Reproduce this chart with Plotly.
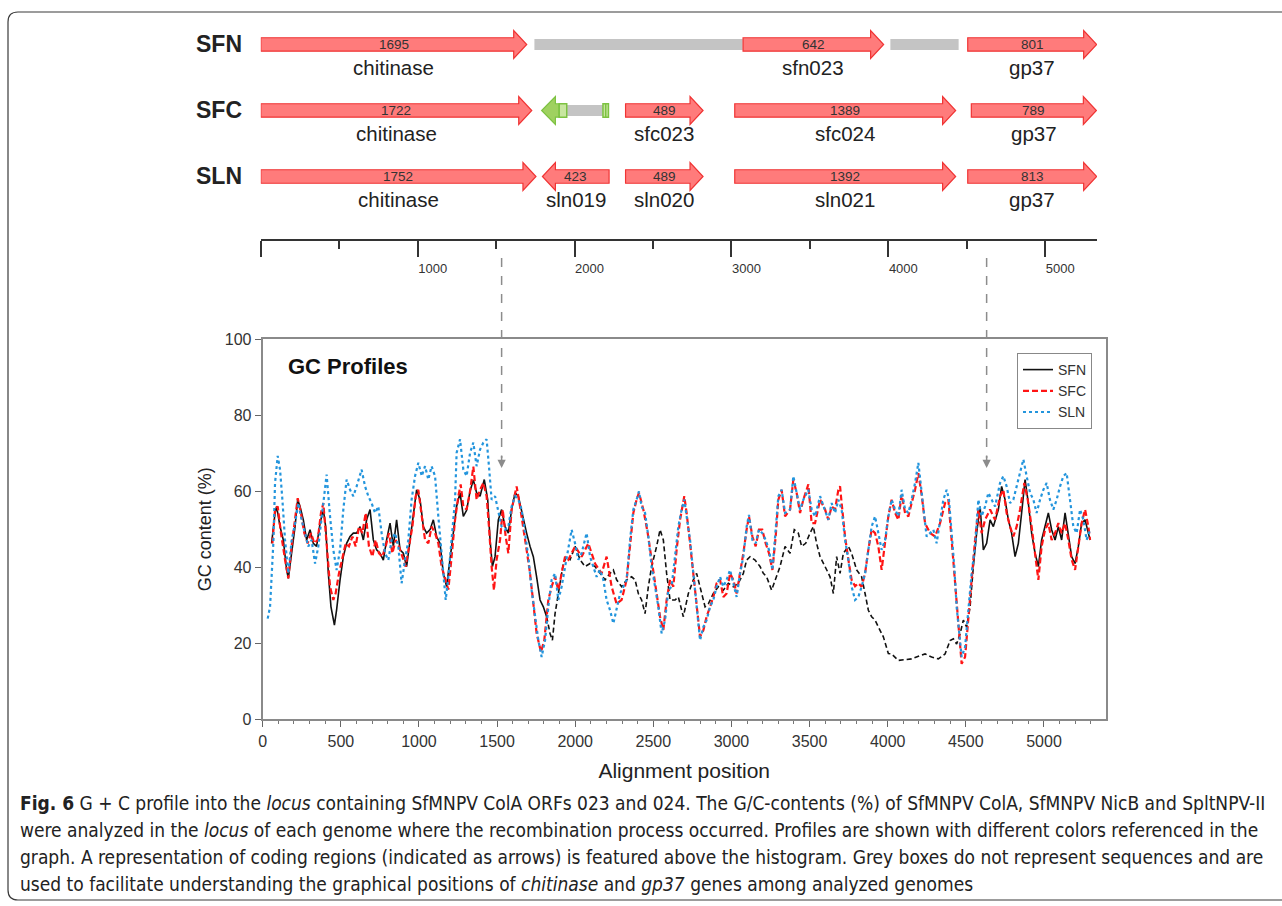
import plotly.graph_objects as go

W, H = 1282, 906
def px(x):
    return x / W
def py(y):
    return 1 - y / H

FONT = "Liberation Sans, Arial, Helvetica, sans-serif"
CAPFONT = "Liberation Sans Narrow, Arial Narrow, DejaVu Sans Condensed, sans-serif"

# ---------------- GC profile data (alignment position, GC %) ----------------
sfn_pos = [57, 79, 89, 111, 132, 153, 164, 185, 207, 224,
           239, 260, 281, 303, 324, 345, 367, 388, 403, 420,
           437, 459, 473, 495, 516, 537, 559, 580, 601, 623,
           644, 665, 687, 708, 729, 751, 772, 793, 815, 836,
           857, 879, 900, 921, 943, 964, 985, 1007, 1028, 1049,
           1071, 1092, 1113, 1135, 1156, 1177, 1199, 1220, 1241, 1263,
           1284, 1305, 1327, 1348, 1369, 1391, 1418, 1440, 1455, 1470,
           1487, 1508, 1529, 1551, 1572, 1593, 1615, 1636, 1668, 1689,
           1711, 1732, 1753, 1775, 1796, 1817, 1839, 1854, 1871, 1892,
           1924, 1945, 1967, 1999, 2031, 2063, 2095, 2127, 2159, 2191,
           2223, 2244, 2265, 2297, 2329, 2361, 2383, 2404, 2425, 2447,
           2468, 2489, 2521, 2543, 2564, 2585, 2607, 2639, 2660, 2692,
           2724, 2756, 2777, 2809, 2831, 2852, 2884, 2916, 2948, 2980,
           3012, 3044, 3076, 3097, 3119, 3151, 3183, 3204, 3225, 3257,
           3279, 3311, 3343, 3375, 3402, 3428, 3449, 3475, 3503, 3524,
           3545, 3567, 3599, 3631, 3652, 3673, 3695, 3716, 3748, 3769,
           3801, 3833, 3855, 3876, 3897, 3919, 3940, 3972, 4004, 4025,
           4068, 4153, 4239, 4281, 4324, 4367, 4399, 4420, 4441, 4463,
           4484, 4505, 4527, 4548, 4569, 4591, 4612, 4633, 4655, 4676,
           4708, 4729, 4751, 4772, 4793, 4815, 4836, 4857, 4879, 4900,
           4921, 4943, 4964, 4985, 5007, 5028, 5049, 5071, 5092, 5113,
           5135, 5156, 5177, 5199, 5220, 5241, 5263, 5284, 5295]
sfn_gc = [46.3, 54.3, 56, 50.7, 47.2, 39.3, 37.1, 43.7, 50.7, 57.8,
          56, 52.5, 47.2, 49.9, 46.3, 45.5, 51.6, 55.2, 50.7, 38.4,
          29.6, 24.8, 28.8, 36.7, 42.8, 46.3, 48.1, 49, 49, 50.7,
          47.2, 52.5, 55.2, 47.2, 44.6, 43.7, 41.9, 47.2, 51.6, 45.5,
          52.5, 44.6, 43.7, 40.2, 47.2, 52.5, 60.4, 57.8, 50.7, 49,
          49.9, 52.5, 48.1, 46.3, 38.4, 34.9, 41.9, 49.9, 56, 59.6,
          53.4, 55, 60, 63, 59.6, 58.7, 63.1, 57.8, 47.2, 40.2,
          42.8, 52.5, 55.2, 50.7, 49, 55.2, 59.6, 58.7, 52.5, 49,
          45.5, 42.8, 37.5, 31.4, 29.6, 27, 22.6, 20.8, 27.8, 33.1,
          41, 42.8, 42, 45.5, 42, 40.2, 41, 40.2, 38.4, 36.7,
          38.4, 39.3, 36.7, 34.9, 36.7, 37.5, 36.7, 33.1, 31.4, 27.8,
          34.9, 40.2, 45.5, 49.9, 47.2, 38.4, 31.4, 31.4, 32.2, 27,
          33.1, 36.7, 38.4, 33.1, 29.6, 30.4, 33.1, 34.9, 34, 35.8,
          34.9, 35.8, 38.4, 41.9, 42.8, 41.9, 40.2, 38.4, 37.5, 34,
          36.7, 40.2, 45.5, 43.7, 49.9, 49, 45.5, 46.3, 49, 50.7,
          46.3, 42.8, 40.2, 37.5, 33.1, 42.8, 38.4, 43.7, 45.5, 43.7,
          39.3, 37.5, 33.1, 28.7, 27, 26.1, 24.3, 21.7, 17.3, 17.2,
          15.5, 15.9, 17.2, 16.4, 15.9, 17.2, 20.7, 21.2, 19.8, 22.5,
          26.1, 24.3, 29.6, 40.2, 49, 56, 44.6, 46.3, 52.5, 50.7,
          55.2, 61.3, 57.8, 52.5, 49, 42.8, 46.3, 54.3, 63.1, 56.9,
          49, 43.7, 40.2, 47.2, 50.7, 54.3, 49.9, 47.2, 50.7, 47.2,
          54.3, 49, 42.8, 41, 45.5, 51.6, 52.5, 49, 47.2]

sfc_pos = [62, 79, 96, 117, 143, 164, 185, 207, 224, 245,
           266, 288, 309, 330, 352, 373, 388, 409, 431, 452,
           467, 488, 509, 531, 552, 574, 595, 616, 638, 659,
           680, 702, 723, 744, 765, 787, 808, 830, 851, 872,
           894, 915, 936, 958, 979, 996, 1018, 1039, 1060, 1081,
           1103, 1124, 1145, 1167, 1188, 1209, 1231, 1252, 1267, 1284,
           1305, 1327, 1348, 1369, 1391, 1412, 1433, 1448, 1465, 1480,
           1497, 1519, 1536, 1555, 1572, 1593, 1625, 1647, 1668, 1689,
           1711, 1732, 1753, 1781, 1802, 1828, 1849, 1871, 1892, 1913,
           1935, 1956, 1999, 2041, 2084, 2127, 2169, 2201, 2233, 2265,
           2297, 2329, 2351, 2372, 2393, 2408, 2436, 2464, 2489, 2515,
           2543, 2564, 2585, 2607, 2628, 2649, 2671, 2698, 2713, 2735,
           2756, 2777, 2799, 2820, 2841, 2863, 2884, 2905, 2927, 2948,
           2969, 2991, 3012, 3033, 3055, 3076, 3097, 3112, 3134, 3155,
           3176, 3197, 3219, 3240, 3262, 3283, 3300, 3321, 3343, 3375,
           3396, 3417, 3439, 3460, 3492, 3513, 3535, 3567, 3599, 3620,
           3641, 3663, 3684, 3695, 3705, 3727, 3748, 3769, 3791, 3812,
           3833, 3855, 3876, 3897, 3919, 3940, 3961, 3983, 4004, 4025,
           4047, 4068, 4089, 4111, 4132, 4153, 4175, 4196, 4217, 4239,
           4271, 4303, 4335, 4367, 4388, 4409, 4431, 4452, 4473, 4495,
           4516, 4537, 4559, 4580, 4601, 4623, 4655, 4687, 4719, 4740,
           4761, 4783, 4804, 4825, 4847, 4874, 4896, 4921, 4943, 4964,
           4985, 5007, 5028, 5049, 5071, 5092, 5113, 5135, 5156, 5177,
           5199, 5220, 5241, 5263, 5284, 5295]
sfc_gc = [46.3, 55.2, 56, 49, 42, 37.1, 45.5, 53.4, 58.2, 54.3,
          49, 46.3, 49, 46.3, 47.2, 54.3, 56.9, 46.3, 34.9, 31.4,
          33.2, 38.4, 42, 46.3, 45.5, 48.1, 45.5, 50.7, 49, 54.3,
          45.5, 42.8, 47.2, 43.7, 42.8, 45.5, 49, 43.7, 47.2, 45.5,
          42.8, 40.2, 45.5, 50.7, 58.7, 60.4, 53.4, 47.2, 46.3, 50.7,
          49, 46.3, 40.2, 36.7, 34.1, 42.8, 52.5, 58.7, 61.8, 56,
          55.2, 60, 66.5, 57.8, 60.4, 62.2, 58.7, 50.7, 40.2, 34,
          42, 47.2, 55.2, 48.1, 43.7, 55.2, 61.3, 56, 50.7, 44.6,
          38.4, 29.6, 22.6, 17.7, 20.8, 31.4, 34.9, 37.5, 34, 38.4,
          42.8, 42, 45.5, 42.8, 46.3, 41, 38.4, 42.8, 34.9, 30.4,
          31.4, 36.7, 46.3, 54.3, 57.8, 59.6, 55.2, 49, 42, 34.9,
          27, 23.5, 31.4, 36.7, 34.9, 44.6, 52.5, 58.7, 54.3, 46.3,
          38.4, 29.6, 21.7, 23.4, 27, 29.6, 32.2, 35.8, 36.7, 32.2,
          33.1, 38.4, 36.7, 33.1, 38.4, 43.7, 49.9, 53.4, 48.1, 45.5,
          49.9, 49.9, 46.3, 43.7, 39.3, 48.1, 57.8, 60.4, 53.4, 55.2,
          63.1, 59.6, 54.3, 57.8, 61.8, 51.6, 51.6, 57.8, 55.2, 52.5,
          56, 55.2, 60.4, 61.3, 56.9, 48.1, 42, 36.7, 35, 35.8,
          34.9, 38.4, 44.6, 49.9, 49, 45.5, 39.3, 46.3, 53.4, 57.8,
          54.3, 52.5, 59.1, 54.3, 53.4, 56.9, 60.4, 64.8, 59.1, 51.6,
          49, 48.1, 51.6, 56.9, 57.8, 47.2, 35.8, 24.3, 14.6, 16.4,
          27, 38.4, 47.2, 55.2, 49, 52.5, 55.2, 52.5, 58.7, 60.4,
          54.3, 50.7, 48.1, 50.7, 55.2, 62.2, 57.8, 50.7, 42.8, 36.7,
          45.5, 49.9, 51.6, 47.2, 49, 51.6, 49, 51.6, 47.2, 42,
          39.3, 45.5, 51.6, 55.2, 50.7, 47.2]

sln_pos = [32, 47, 68, 79, 96, 111, 126, 143, 164, 185,
           207, 228, 249, 271, 292, 313, 335, 356, 377, 399,
           409, 431, 452, 473, 495, 516, 537, 559, 580, 601,
           633, 655, 676, 697, 719, 740, 761, 783, 804, 825,
           847, 868, 889, 911, 932, 953, 975, 996, 1018, 1039,
           1060, 1081, 1103, 1124, 1145, 1156, 1171, 1188, 1209, 1231,
           1241, 1263, 1284, 1305, 1327, 1348, 1369, 1391, 1412, 1433,
           1448, 1465, 1487, 1508, 1529, 1551, 1572, 1593, 1615, 1636,
           1657, 1679, 1700, 1721, 1743, 1764, 1785, 1807, 1828, 1849,
           1871, 1892, 1913, 1935, 1956, 1977, 1999, 2020, 2041, 2063,
           2073, 2095, 2116, 2137, 2159, 2180, 2201, 2223, 2244, 2265,
           2287, 2308, 2329, 2351, 2372, 2393, 2408, 2425, 2447, 2468,
           2489, 2511, 2532, 2553, 2575, 2596, 2617, 2639, 2660, 2681,
           2698, 2713, 2735, 2756, 2777, 2799, 2820, 2841, 2863, 2884,
           2905, 2927, 2948, 2969, 2991, 3012, 3033, 3055, 3076, 3097,
           3112, 3134, 3155, 3176, 3197, 3219, 3240, 3262, 3283, 3300,
           3321, 3343, 3375, 3396, 3417, 3439, 3460, 3492, 3513, 3535,
           3567, 3599, 3620, 3641, 3663, 3684, 3705, 3727, 3748, 3769,
           3791, 3812, 3833, 3855, 3876, 3897, 3919, 3940, 3961, 3983,
           4004, 4025, 4047, 4068, 4089, 4111, 4132, 4153, 4175, 4196,
           4213, 4228, 4249, 4271, 4292, 4313, 4335, 4356, 4377, 4392,
           4409, 4426, 4441, 4456, 4473, 4495, 4516, 4537, 4559, 4580,
           4601, 4623, 4644, 4665, 4687, 4719, 4740, 4761, 4783, 4804,
           4825, 4847, 4868, 4889, 4911, 4932, 4953, 4975, 4996, 5017,
           5038, 5060, 5081, 5103, 5124, 5145, 5166, 5188, 5209, 5231,
           5252, 5273, 5295]
sln_gc = [26.5, 29.6, 46.3, 62.2, 69.3, 65.7, 57.8, 47.2, 38.4, 47,
          51.6, 56.9, 52.5, 49, 45.5, 47.2, 41, 45.5, 53.4, 61.3,
          64.4, 53.4, 44.6, 39.3, 44.6, 55.2, 63.1, 60.4, 58.7, 61.3,
          65.7, 61.3, 58.7, 56.9, 54.3, 56, 49, 43.7, 41.9, 47.2,
          49, 45.5, 35.8, 41.9, 47.2, 57.8, 64, 67.5, 64, 66.6,
          63.1, 66.6, 64, 53.4, 42.8, 36.7, 31.4, 37.5, 47.2, 57.8,
          70.1, 73.7, 65.7, 64, 70.1, 72.8, 66.6, 71, 72.8, 73.7,
          66.6, 57.8, 58.7, 54.3, 50.7, 49.9, 50.7, 56, 58.7, 57.8,
          55.2, 49, 42.8, 34, 27, 20.8, 16.4, 20.8, 29.6, 36.7,
          38.4, 31.4, 34.9, 40.2, 45.5, 49.9, 46.3, 42, 43.7, 47.2,
          49, 42.8, 40.2, 37.5, 39.3, 36.7, 31.4, 28.7, 25.2, 28.7,
          33.1, 34.9, 36.7, 47.2, 55.2, 57.8, 60, 56, 54.3, 48.1,
          40.2, 34.9, 29.6, 22.6, 26.1, 34, 34.9, 43, 50.7, 55.2,
          57.8, 53.4, 47.2, 38.4, 29.6, 20.8, 24.3, 26.1, 29.6, 31.4,
          34.9, 37.5, 34.9, 36.7, 39.3, 35.8, 32.2, 38.4, 42.8, 50.7,
          53.8, 47.2, 46.3, 49.9, 49, 47.2, 44.6, 39.3, 49, 58.7,
          60.4, 54.3, 55.2, 64, 59.6, 55.2, 57.8, 60.4, 55.2, 53.4,
          58.7, 55.2, 52.5, 56.9, 54.3, 57.8, 55.2, 47.2, 42, 34.9,
          31.4, 32.2, 34.9, 38.4, 44.6, 50.7, 53.4, 49, 44.6, 47.2,
          53.4, 57.8, 55.2, 53.4, 60.4, 55.2, 54.3, 57.8, 62.2, 67.5,
          61.3, 55.2, 48.1, 49, 49.9, 46.3, 52.5, 57.8, 60.4, 57.8,
          49, 40.2, 29.6, 22.6, 16.4, 19, 29.6, 38.4, 45.5, 57.8,
          53.4, 56, 59.6, 57.8, 56, 62.2, 64, 61.3, 56.9, 57.8,
          61.3, 64.8, 68.4, 64, 59.6, 57.8, 54.3, 57.8, 60.4, 62.2,
          57.8, 55.2, 57.8, 61.3, 64, 64.8, 57.8, 50.7, 49, 55.2,
          52.5, 47.2, 49.9]

x_ticks = [0, 500, 1000, 1500, 2000, 2500, 3000, 3500, 4000, 4500, 5000]
y_ticks = [0, 20, 40, 60, 80, 100]

# ---------------- gene map data ----------------
genome_names = ["SFN", "SFC", "SLN"]
gene_row    = [0, 0, 0, 1, 1, 1, 1, 2, 2, 2, 2, 2]
gene_start  = [0, 3074, 4506, 0, 2325, 3021, 4529, 0, 1795, 2325, 3021, 4506]
gene_end    = [1695, 3970, 5328, 1727, 2819, 4429, 5326, 1754, 2220, 2819, 4429, 5328]
gene_strand = [1, 1, 1, 1, 1, 1, 1, 1, -1, 1, 1, 1]
gene_size   = ["1695", "642", "801", "1722", "489", "1389", "789",
               "1752", "423", "489", "1392", "813"]
gene_label  = ["chitinase", "sfn023", "gp37", "chitinase", "sfc023", "sfc024", "gp37",
               "chitinase", "sln019", "sln020", "sln021", "gp37"]
grey_row   = [0, 0, 1]
grey_start = [1744, 4013, 1950]
grey_end   = [3072, 4448, 2181]
# truncated ORF fragment in SFC (green)
frag_arrow = (1790, 1902)
frag_boxes = [(1902, 1950), (2181, 2216)]
ruler_major = [0, 1000, 2000, 3000, 4000, 5000]
ruler_text = ["", "1000", "2000", "3000", "4000", "5000"]
ruler_minor = [500, 1500, 2500, 3500, 4500]
recomb_sites = [1529, 4633]

caption_lines = [
    "<b>Fig. 6</b> G + C profile into the <i>locus</i> containing SfMNPV ColA ORFs 023 and 024. The G/C-contents (%) of SfMNPV ColA, SfMNPV NicB and SpltNPV-II",
    "were analyzed in the <i>locus</i> of each genome where the recombination process occurred. Profiles are shown with different colors referenced in the",
    "graph. A representation of coding regions (indicated as arrows) is featured above the histogram. Grey boxes do not represent sequences and are",
    "used to facilitate understanding the graphical positions of <i>chitinase</i> and <i>gp37</i> genes among analyzed genomes",
]

# ---------------- figure ----------------
fig = go.Figure()

mid_lo, mid_hi = 1817, 4548
def part(xs, ys, cond):
    pts = [(a, b) for a, b in zip(xs, ys) if cond(a)]
    return [p[0] for p in pts], [p[1] for p in pts]

x1, y1 = part(sfn_pos, sfn_gc, lambda a: a <= mid_lo)
x2, y2 = part(sfn_pos, sfn_gc, lambda a: mid_lo <= a <= mid_hi)
x3, y3 = part(sfn_pos, sfn_gc, lambda a: a >= mid_hi)

fig.add_trace(go.Scatter(x=x1, y=y1, mode="lines", name="SFN", legendgroup="sfn",
                         line=dict(color="#111111", width=1.6)))
fig.add_trace(go.Scatter(x=x2, y=y2, mode="lines", name="SFN", legendgroup="sfn",
                         showlegend=False, line=dict(color="#111111", width=1.6, dash="5px,3px")))
fig.add_trace(go.Scatter(x=x3, y=y3, mode="lines", name="SFN", legendgroup="sfn",
                         showlegend=False, line=dict(color="#111111", width=1.6)))
fig.add_trace(go.Scatter(x=sfc_pos, y=sfc_gc, mode="lines", name="SFC", legendgroup="sfc",
                         line=dict(color="#ff1414", width=2.2, dash="6px,3px")))
fig.add_trace(go.Scatter(x=sln_pos, y=sln_gc, mode="lines", name="SLN", legendgroup="sln",
                         line=dict(color="#2395dd", width=2.2, dash="dot")))

# invisible anchor trace for gene-map axes
fig.add_trace(go.Scatter(x=[0], y=[0], xaxis="x2", yaxis="y2", mode="markers",
                         marker=dict(opacity=0), showlegend=False, hoverinfo="skip"))

BH, HH, HL = 0.102, 0.212, 83
def arrow_path(s, e, r, strand, hl=HL):
    if strand > 0:
        b = e - hl
        pts = [(s, r - BH), (b, r - BH), (b, r - HH), (e, r), (b, r + HH), (b, r + BH), (s, r + BH)]
    else:
        b = s + hl
        pts = [(e, r - BH), (b, r - BH), (b, r - HH), (s, r), (b, r + HH), (b, r + BH), (e, r + BH)]
    return "M " + " L ".join(f"{x},{y}" for x, y in pts) + " Z"

shapes = []
for r, s, e in zip(grey_row, grey_start, grey_end):
    shapes.append(dict(type="rect", xref="x2", yref="y2", x0=s, x1=e, y0=r - 0.085, y1=r + 0.085,
                       fillcolor="#c4c4c4", line=dict(width=0)))
for r, s, e, st in zip(gene_row, gene_start, gene_end, gene_strand):
    shapes.append(dict(type="path", xref="x2", yref="y2", path=arrow_path(s, e, r, st),
                       fillcolor="#ff7b7b", line=dict(color="#f03434", width=1.2)))
# green fragment in SFC
shapes.append(dict(type="path", xref="x2", yref="y2", path=arrow_path(frag_arrow[0], frag_arrow[1], 1, -1, hl=88),
                   fillcolor="#9fd160", line=dict(color="#7dc242", width=1.2)))
for s, e in frag_boxes:
    shapes.append(dict(type="rect", xref="x2", yref="y2", x0=s, x1=e, y0=1 - BH, y1=1 + BH,
                       fillcolor="#c8e6a0", line=dict(color="#7dc242", width=1.5)))
shapes.append(dict(type="line", xref="x2", yref="y2", x0=sum(frag_boxes[1]) / 2, x1=sum(frag_boxes[1]) / 2,
                   y0=1 - BH, y1=1 + BH, line=dict(color="#7dc242", width=1.5)))

# recombination-site dashed pointers
for xv in recomb_sites:
    shapes.append(dict(type="line", xref="x", yref="paper", x0=xv, x1=xv, y0=py(258), y1=py(458),
                       line=dict(color="#8c8c8c", width=1.5, dash="dash")))

# outer rounded frame
r = 10
frame = (f"M {px(1290)},{py(12)} L {px(8 + r)},{py(12)} Q {px(8)},{py(12)} {px(8)},{py(12 + r)} "
         f"L {px(8)},{py(900 - r)} Q {px(8)},{py(900)} {px(8 + r)},{py(900)} L {px(1290)},{py(900)}")
shapes.append(dict(type="path", xref="paper", yref="paper", path=frame,
                   line=dict(color="#3a3a3a", width=1.2)))

ann = []
for i, g in enumerate(genome_names):
    ann.append(dict(x=px(194), y=i, xref="paper", yref="y2", xanchor="left", yanchor="middle",
                    text=f"<b>{g}</b>", showarrow=False, font=dict(size=23, color="#222", family=FONT)))
for r_, s, e, sz, lb in zip(gene_row, gene_start, gene_end, gene_size, gene_label):
    m = (s + e) / 2
    ann.append(dict(x=m, y=r_, xref="x2", yref="y2", text=sz, showarrow=False,
                    font=dict(size=13.5, color="#333", family=FONT), yanchor="middle"))
    ann.append(dict(x=m, y=r_ + 0.35, xref="x2", yref="y2", text=lb, showarrow=False,
                    font=dict(size=20.5, color="#222", family=FONT), yanchor="middle"))
for xv in recomb_sites:
    ann.append(dict(x=xv, y=py(468), xref="x", yref="paper", ax=0, ay=-14, text="",
                    showarrow=True, arrowhead=2, arrowsize=1.1, arrowwidth=1.5, arrowcolor="#8c8c8c"))
ann.append(dict(x=px(286), y=py(367), xref="paper", yref="paper", xanchor="left", yanchor="middle",
                text="<b>GC Profiles</b>", showarrow=False, font=dict(size=22, color="#111", family=FONT)))
for i, line in enumerate(caption_lines):
    ann.append(dict(x=px(18), y=py(803 + 27 * i), xref="paper", yref="paper", xanchor="left",
                    yanchor="middle", text=line, showarrow=False, align="left",
                    font=dict(size=19, color="#222", family=CAPFONT)))

axis_line = "#8a8a8a"
fig.update_layout(
    width=W, height=H, margin=dict(l=0, r=0, t=0, b=0, autoexpand=False),
    paper_bgcolor="white", plot_bgcolor="white",
    font=dict(family=FONT, color="#333"),
    shapes=shapes, annotations=ann,
    xaxis=dict(domain=[px(262.7), px(1105.7)], range=[0, 5395], anchor="y",
               tickmode="array", tickvals=x_ticks,
               ticks="outside", ticklen=6, tickwidth=1.2, tickcolor="#666",
               minor=dict(dtick=100, tick0=0, ticks="outside", ticklen=3, tickwidth=1, tickcolor="#777"),
               showline=True, linecolor=axis_line, linewidth=2, mirror=True,
               showgrid=False, zeroline=False, automargin=False,
               tickfont=dict(size=16, color="#333", family=FONT),
               title=dict(text="Alignment position", font=dict(size=21, color="#222", family=FONT), standoff=15)),
    yaxis=dict(domain=[py(719.3), py(339.3)], range=[0, 100], anchor="x",
               tickmode="array", tickvals=y_ticks,
               ticks="outside", ticklen=6, tickwidth=1.2, tickcolor="#666",
               showline=True, linecolor=axis_line, linewidth=2, mirror=True,
               showgrid=False, zeroline=False, automargin=False,
               tickfont=dict(size=16, color="#333", family=FONT),
               title=dict(text="GC content (%)", font=dict(size=18, color="#222", family=FONT), standoff=8)),
    xaxis2=dict(domain=[px(260.8), px(1097)], range=[0, 5330], anchor="y2",
                tickmode="array", tickvals=ruler_major, ticktext=ruler_text,
                ticks="outside", ticklen=16, tickwidth=1.5, tickcolor="#333",
                minor=dict(tickvals=ruler_minor, ticks="outside", ticklen=8, tickwidth=1.5, tickcolor="#333"),
                showline=True, linecolor="#333", linewidth=1.5, automargin=False,
                showgrid=False, zeroline=False, ticklabelshift=15, ticklabelstandoff=1,
                tickfont=dict(size=13, color="#333", family=FONT)),
    yaxis2=dict(domain=[py(239), py(20)], range=[2.947, -0.371], anchor="x2", visible=False),
    legend=dict(x=px(1092), xanchor="right", y=py(353), yanchor="top",
                bgcolor="white", bordercolor="#888", borderwidth=1,
                font=dict(size=14, color="#333", family=FONT), tracegroupgap=0),
)

fig.write_html("out.html", config={"displayModeBar": False},
               post_script="document.body.style.margin='0';document.body.style.overflow='hidden';")
